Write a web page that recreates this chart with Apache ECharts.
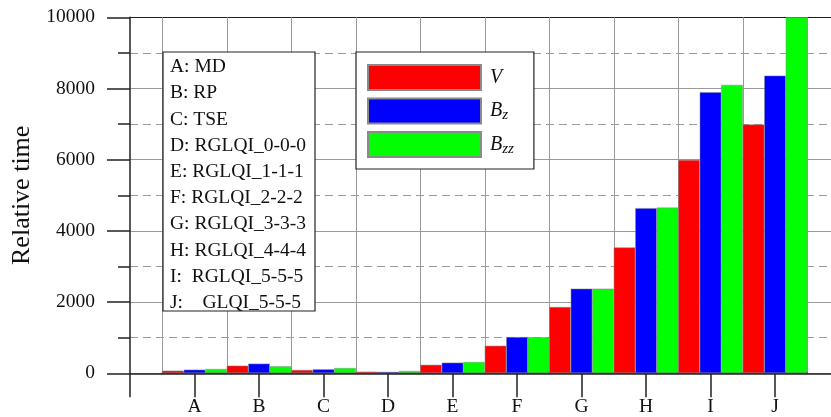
<!DOCTYPE html>
<html><head><meta charset="utf-8">
<script src="https://cdn.jsdelivr.net/npm/echarts@6/dist/echarts.min.js"></script>
<style>html,body{margin:0;padding:0;background:#fff}#c{width:831px;height:417px}</style>
</head><body><div id="c"></div>
<script>
// ---- data ----
const categories = ['A','B','C','D','E','F','G','H','I','J'];
const seriesNames = ['V','Bz','Bzz'];
const valuesV   = [65, 205, 85, 37, 230, 765, 1855, 3530, 5990, 6985];
const valuesBz  = [93, 262, 103, 30, 290, 1010, 2370, 4635, 7895, 8360];
const valuesBzz = [112, 187, 140, 56, 309, 1005, 2370, 4650, 8100, 10000];
const methodLabels = ['A: MD','B: RP','C: TSE','D: RGLQI_0-0-0','E: RGLQI_1-1-1',
  'F: RGLQI_2-2-2','G: RGLQI_3-3-3','H: RGLQI_4-4-4','I:  RGLQI_5-5-5','J:    GLQI_5-5-5'];
const yMin = 0, yMax = 10000, yInterval = 2000;
const yTitle = 'Relative time';

// ---- layout / style ----
const FONT = '"Liberation Serif","Times New Roman",serif';
const DARK = '#222', GRAY = '#9a9a9a';
const L = 130, T = 17.3, B = 373.3, W = 831, H = 417;
const SLOT = 64.5;               // width of one category slot
// frame axis: 0 at the y axis, category k centred at k (1..10), cropped at the right edge
const frameMax = (W - L) / SLOT;
const frameTicks = [0].concat(categories.map(function(c, i){ return i + 1; }));

const chart = echarts.init(document.getElementById('c'), null, {renderer:'canvas'});
const yCommon = {type:'value', min:yMin, max:yMax, interval:yInterval};
const option = {
  animation:false,
  backgroundColor:'#fff',
  grid:[
    {left:L, top:T, right:0, bottom:H-B},
    {left:L+SLOT/2, top:T, width:SLOT*categories.length, bottom:H-B}
  ],
  xAxis:[
    {type:'value', gridIndex:0, min:0, max:frameMax,
     axisLabel:{show:false},
     axisTick:{show:true, customValues:frameTicks, length:24, lineStyle:{color:DARK, width:1.5}},
     splitLine:{show:false}, axisLine:{show:true, lineStyle:{color:DARK, width:1.5}}},
    {type:'category', gridIndex:1, data:categories, boundaryGap:true,
     axisLine:{show:true, lineStyle:{color:DARK, width:1.5}},
     axisTick:{show:true, alignWithLabel:true, length:24, lineStyle:{color:DARK, width:1.5}},
     axisLabel:{margin:24, fontFamily:FONT, fontSize:19.5, color:'#111'},
     splitLine:{show:true, lineStyle:{color:GRAY, width:1}}}
  ],
  yAxis:[
    Object.assign({}, yCommon, {gridIndex:0,
      name:yTitle, nameLocation:'middle', nameGap:92,
      nameTextStyle:{fontFamily:FONT, fontSize:26, color:'#111'},
      axisLine:{show:true, lineStyle:{color:DARK, width:1.5}},
      axisTick:{show:true, length:23, lineStyle:{color:DARK, width:1.5}},
      minorTick:{show:true, splitNumber:2, length:12, lineStyle:{color:DARK, width:1.5}},
      axisLabel:{margin:35, fontFamily:FONT, fontSize:19.5, color:'#111',
                 formatter:function(v){return String(v);}},
      splitLine:{show:true, lineStyle:{color:[GRAY,GRAY,GRAY,GRAY,GRAY,DARK], width:1.2}},
      minorSplitLine:{show:true, lineStyle:{color:GRAY, width:1.2, type:[8,5]}}
    }),
    Object.assign({}, yCommon, {gridIndex:1, show:false})
  ],
  legend:{
    orient:'vertical', left:356, top:52, z:10,
    data:seriesNames,
    itemWidth:113, itemHeight:25, itemGap:6.5,
    backgroundColor:'#fff', borderColor:DARK, borderWidth:1.2,
    padding:[12,20,11,11],
    icon:'rect',
    formatter:function(n){
      if(n==='V') return '{i|V}';
      if(n==='Bz') return '{i|B}{s|z}';
      return '{i|B}{s|zz}';
    },
    textStyle:{padding:[0,0,0,4], rich:{
      i:{fontFamily:FONT, fontStyle:'italic', fontSize:20, lineHeight:24, color:'#111'},
      s:{fontFamily:FONT, fontStyle:'italic', fontSize:15, lineHeight:4, verticalAlign:'bottom', color:'#111'}
    }}
  },
  series:[
    {name:seriesNames[0], type:'bar', xAxisIndex:1, yAxisIndex:1, data:valuesV,
     barGap:'0%', barCategoryGap:'0%', itemStyle:{color:'#ff0000', borderColor:'#8a8a8a', borderWidth:0.5}},
    {name:seriesNames[1], type:'bar', xAxisIndex:1, yAxisIndex:1, data:valuesBz,
     barGap:'0%', barCategoryGap:'0%', itemStyle:{color:'#0000ff', borderColor:'#8a8a8a', borderWidth:0.5}},
    {name:seriesNames[2], type:'bar', xAxisIndex:1, yAxisIndex:1, data:valuesBzz,
     barGap:'0%', barCategoryGap:'0%', itemStyle:{color:'#00ff00', borderColor:'#8a8a8a', borderWidth:0.5}}
  ],
  graphic:[
    {type:'rect', z:10, shape:{x:163, y:52, width:152, height:259},
     style:{fill:'#fff', stroke:DARK, lineWidth:1.2}},
    {type:'text', z:11, x:170, y:53.9,
     style:{text:methodLabels.join('\n'), fontFamily:FONT, fontSize:19.5, lineHeight:26.2,
            fill:'#111', align:'left', verticalAlign:'top'}}
  ]
};
chart.setOption(option);
</script>
</body></html>
